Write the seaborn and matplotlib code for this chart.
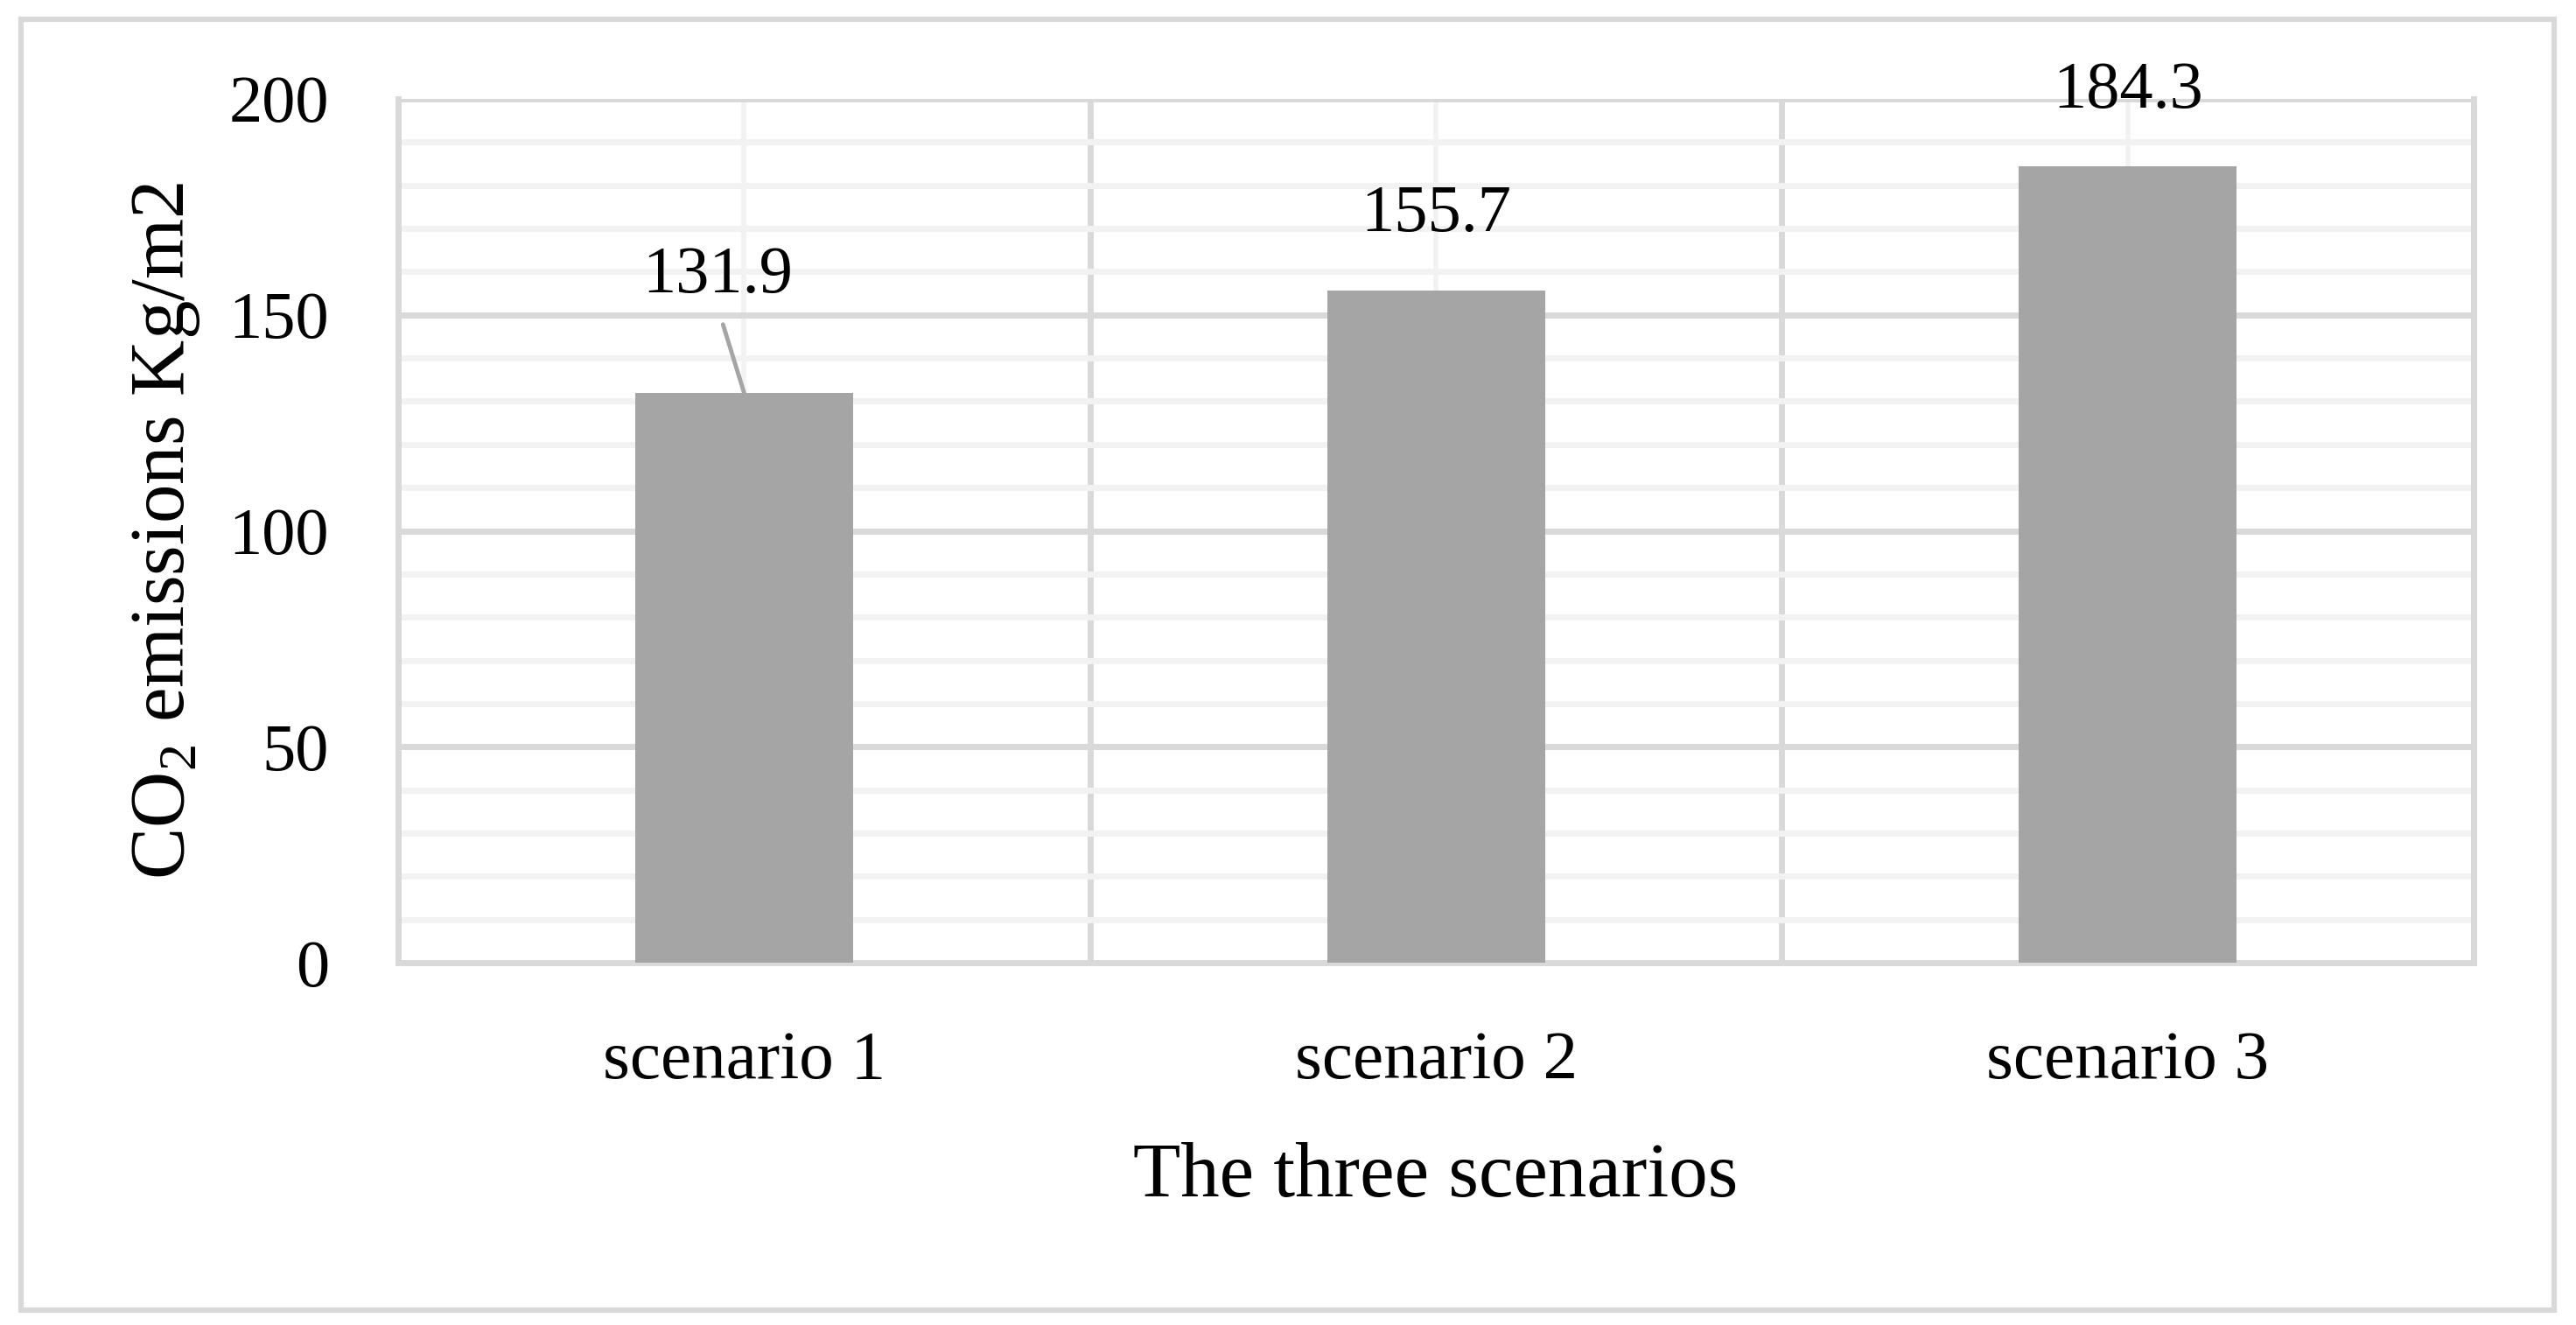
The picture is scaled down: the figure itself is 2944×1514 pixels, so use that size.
import matplotlib
matplotlib.use("Agg")
import matplotlib.pyplot as plt
import seaborn as sns
from matplotlib.patches import Rectangle

# data
scenarios = ['scenario 1', 'scenario 2', 'scenario 3']
co2_values = [131.9, 155.7, 184.3]
y_ticks = [0, 50, 100, 150, 200]

sns.set_theme(style="white")
plt.rcParams['font.family'] = ['Liberation Serif', 'DejaVu Serif']
plt.rcParams['mathtext.fontset'] = 'custom'
plt.rcParams['mathtext.rm'] = 'Liberation Serif'
for key in ['text.color', 'axes.labelcolor', 'xtick.color', 'ytick.color']:
    plt.rcParams[key] = 'black'

BAR = '#A5A5A5'
MAJOR = '#D9D9D9'
MINOR = '#F2F2F2'

fig = plt.figure(figsize=(29.44, 15.14), dpi=100)
ax = fig.add_axes([0.1546, 0.2734, 0.8057, 0.652])

sns.barplot(x=scenarios, y=co2_values, color=BAR, saturation=1,
            width=0.315, edgecolor='none', ax=ax, zorder=3)

ax.set_ylim(0, 200)
ax.set_xlim(-0.5, 2.5)
ax.set_yticks(y_ticks)
ax.set_yticks(range(0, 201, 10), minor=True)
ax.set_xticks([-0.5, 0.5, 1.5, 2.5], minor=True)

# --- grid like the office chart ---
ax.grid(which='minor', axis='y', color=MINOR, lw=5, zorder=0)
ax.grid(which='major', axis='x', color=MINOR, lw=4, zorder=0)
ax.grid(which='major', axis='y', color=MAJOR, lw=5, zorder=1)
ax.grid(which='minor', axis='x', color=MAJOR, lw=5, zorder=1)
ax.set_axisbelow(True)

for side in ['left', 'bottom', 'right']:
    ax.spines[side].set_color(MAJOR)
    ax.spines[side].set_linewidth(5)
ax.spines['top'].set_visible(False)

ax.tick_params(axis='both', which='both', length=0)
ax.tick_params(axis='y', labelsize=55, pad=57)
ax.tick_params(axis='x', labelsize=57, pad=56)

ax.set_xlabel('The three scenarios', fontsize=64, labelpad=40)
ax.set_ylabel(r'CO$_\mathregular{2}$ emissions Kg/m2', fontsize=64, labelpad=22)

# --- data labels ---
for i, v in enumerate(co2_values):
    if i == 0:
        ax.annotate(f'{v}', xy=(i, v), xytext=(-22, 96), textcoords='offset points',
                    ha='center', va='center', fontsize=55, zorder=5,
                    arrowprops=dict(arrowstyle='-', color=BAR, lw=3.5,
                                    relpos=(0.5, 0), shrinkA=13, shrinkB=0))
    else:
        ax.annotate(f'{v}', xy=(i, v), xytext=(0, 62), textcoords='offset points',
                    ha='center', va='center', fontsize=55, zorder=5)

# outer chart border
fig.patches.append(Rectangle((24 / 2944, 1 - 1497 / 1514), (2919 - 24) / 2944,
                             (1497 - 22) / 1514, transform=fig.transFigure,
                             fill=False, edgecolor=MAJOR, lw=4.5))

fig.savefig('out.png', dpi=100, facecolor='white')
